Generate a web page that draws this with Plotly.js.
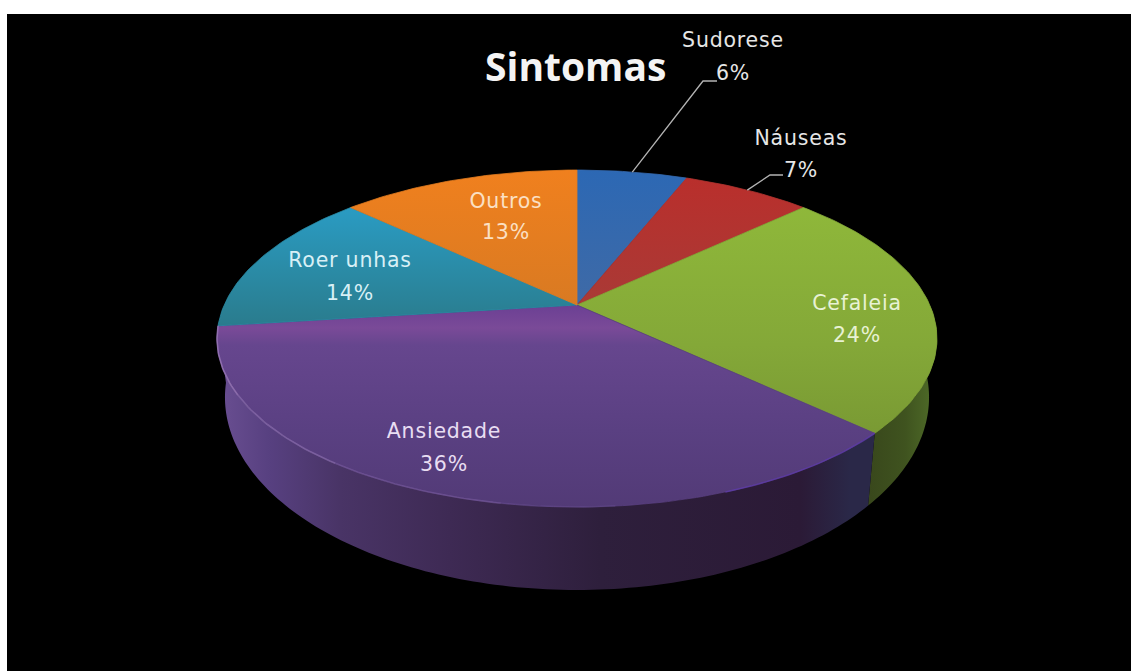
<!DOCTYPE html>
<html>
<head>
<meta charset="utf-8">
<script src="https://cdn.plot.ly/plotly-3.0.1.min.js"></script>
<style>
html,body{margin:0;padding:0;background:#fff}
#chart .textpoint text{letter-spacing:0.8px}
</style>
</head>
<body>
<div id="chart" style="width:1131px;height:671px"></div>
<script>
// Slices run clockwise from twelve o'clock, percentages of all reported symptoms
const categories = ['Sudorese', 'Náuseas', 'Cefaleia', 'Ansiedade', 'Roer unhas', 'Outros'];
const shares = [6, 7, 24, 36, 14, 13];

// Vertical gradient of each slice's top face
const topColours = [
  [[170, '#2c68b4'], [305, '#3f6aa6']],
  [[180, '#b92f2c'], [305, '#a93a36']],
  [[205, '#8fb83a'], [345, '#84a838'], [445, '#789833']],
  [[308, '#6d4194'], [328, '#7a4a98'], [345, '#66468e'], [430, '#5a4082'], [510, '#523a76']],
  [[205, '#2a9cc4'], [270, '#2a8ba6'], [328, '#2a7b8c']],
  [[170, '#f0801e'], [305, '#d97a22']]
];
const seamColours = ['#356ab0', '#b13430', '#84a838', '#5a4082', '#2a8ba6', '#e67d20'];

// Horizontal gradient of the visible side walls
const wallColours = {
  'Cefaleia': [[855, '#3e5a1c'], [870, '#39481c'], [905, '#3f531f'], [935, '#4f6c28']],
  'Ansiedade': [[218, '#6a4f92'], [270, '#574080'], [340, '#493466'], [450, '#3e2a54'],
                [600, '#2e1f3c'], [800, '#2b1a36'], [850, '#2a2848'], [878, '#2a2848']]
};

// Where each label line sits, beside the name of its slice
const labelCentres = [[733, 42, 75], [801, 140, 172], [857, 305, 337], [444, 433, 466], [350, 262, 295], [506, 203, 234]];
const labelColours = ['#e6e6e6', '#e6e6e6', '#e8f2d4', '#e8ddf2', '#d8f0f6', '#fbe0c4'];
const leaderElbows = {'Sudorese': [[703, 81], [717, 81]], 'Náuseas': [[770, 175], [783, 175]]};

// Perspective of the two discs: the upper face and the floor of the pie
const centreX = 577;
const tilt = 0.199;
const upper = {cy: 305, a: 352.8, b: 161.8};
const lower = {cy: 359, a: 345, b: 185};

function project(deg, plane) {
  const t = deg * Math.PI / 180;
  const u = Math.sin(t), v = Math.cos(t), w = 1 + tilt * v;
  return [centreX + plane.a * u / w, plane.cy - plane.b * v / w];
}
function arc(from, to, plane) {
  const n = Math.max(2, Math.ceil(Math.abs(to - from)));
  const pts = [];
  for (let i = 0; i <= n; i++) pts.push(project(from + (to - from) * i / n, plane));
  return pts;
}
function stopsToGradient(stops, start, stop) {
  return {
    start: start, stop: stop,
    colorscale: stops.map(s => [(s[0] - start) / (stop - start), s[1]])
  };
}

const total = shares.reduce((s, v) => s + v, 0);
const starts = [];
shares.reduce((acc, v, i) => { starts[i] = acc; return acc + v; }, 0);
const angle = c => c / total * 360;

const traces = [];

// Side walls go first so the top faces overlap them
categories.forEach((name, i) => {
  const stops = wallColours[name];
  if (!stops) return;
  const a0 = Math.max(angle(starts[i]), 90);
  const a1 = angle(starts[i] + shares[i]);
  const pts = arc(a0, a1, upper).concat(arc(a1, a0, lower));
  pts.push(pts[0]);
  const g = stopsToGradient(stops, stops[0][0], stops[stops.length - 1][0]);
  traces.push({
    x: pts.map(p => p[0]), y: pts.map(p => p[1]),
    mode: 'none', fill: 'toself',
    fillgradient: Object.assign({type: 'horizontal'}, g),
    hoverinfo: 'skip'
  });
});

// Top faces, outlined in their own colour so neighbours meet without a dark seam
categories.forEach((name, i) => {
  const a0 = angle(starts[i]), a1 = angle(starts[i] + shares[i]);
  const pts = [[centreX, upper.cy]].concat(arc(a0, a1, upper));
  pts.push([centreX, upper.cy]);
  const stops = topColours[i];
  const g = stopsToGradient(stops, stops[0][0], stops[stops.length - 1][0]);
  traces.push({
    x: pts.map(p => p[0]), y: pts.map(p => p[1]),
    mode: 'lines', line: {color: seamColours[i], width: 0.8}, fill: 'toself',
    fillgradient: Object.assign({type: 'vertical'}, g),
    hoverinfo: 'skip'
  });
});

// Soft rim light along the front edge of the largest slice
[[262.8, 240, 'rgba(160,125,190,0.75)'], [240, 215, 'rgba(150,120,185,0.6)'],
 [215, 190, 'rgba(135,105,175,0.45)'], [190, 175, 'rgba(115,90,160,0.3)'],
 [160, 133.2, 'rgba(95,60,175,0.7)']].forEach(r => {
  const pts = arc(r[0], r[1], upper);
  traces.push({
    x: pts.map(p => p[0]), y: pts.map(p => p[1]),
    mode: 'lines', line: {color: r[2], width: 1.6}, hoverinfo: 'skip'
  });
});

// Leader lines for the two small slices
categories.forEach((name, i) => {
  const elbow = leaderElbows[name];
  if (!elbow) return;
  const from = project(angle(starts[i] + shares[i] / 2), upper);
  const pts = [from].concat(elbow);
  traces.push({
    x: pts.map(p => p[0]), y: pts.map(p => p[1]),
    mode: 'lines', line: {color: '#b4b4b4', width: 1.3}, hoverinfo: 'skip'
  });
});

// Slice names and percentages
const labelX = [], labelY = [], labelText = [], labelColour = [];
categories.forEach((name, i) => {
  const c = labelCentres[i];
  labelX.push(c[0], c[0]);
  labelY.push(c[1], c[2]);
  labelText.push(name, shares[i] + '%');
  labelColour.push(labelColours[i], labelColours[i]);
});
traces.push({
  x: labelX, y: labelY, text: labelText, mode: 'text', textposition: 'middle center',
  textfont: {family: 'DejaVu Sans', size: 20.5, color: labelColour}, hoverinfo: 'skip'
});

const layout = {
  width: 1131, height: 671,
  margin: {l: 7, r: 0, t: 14, b: 0},
  paper_bgcolor: '#ffffff', plot_bgcolor: '#000000',
  showlegend: false, hovermode: false,
  xaxis: {range: [7, 1131], visible: false, fixedrange: true},
  yaxis: {range: [671, 14], visible: false, fixedrange: true},
  annotations: [{
    text: '<b>Sintomas</b>', x: 575, y: 65, xref: 'x', yref: 'y', showarrow: false,
    font: {family: 'Open Sans', size: 39, color: '#f4f4f4'}
  }]
};

Plotly.newPlot('chart', traces, layout, {displayModeBar: false, staticPlot: true});
</script>
</body>
</html>
